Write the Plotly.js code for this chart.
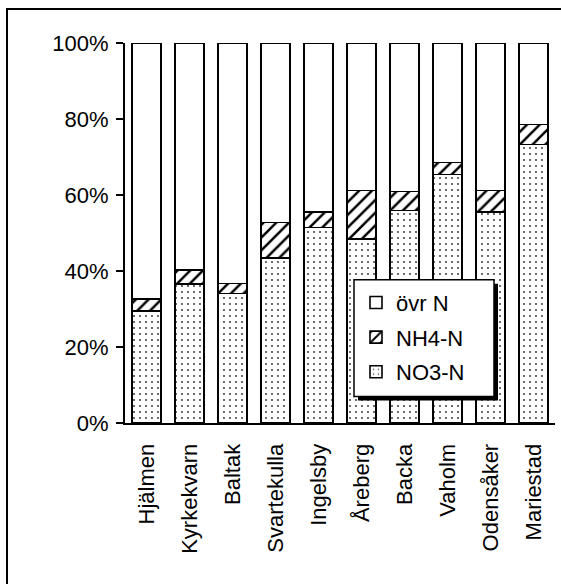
<!DOCTYPE html>
<html>
<head>
<meta charset="utf-8">
<script src="https://cdn.plot.ly/plotly-3.0.1.min.js"></script>
<style>
  html, body { margin: 0; padding: 0; background: #fff; }
  #chart { width: 561px; height: 584px; }
</style>
</head>
<body>
<div id="chart"></div>
<script>
// Share of nitrogen fractions per site (%)
const sites = ["Hjälmen", "Kyrkekvarn", "Baltak", "Svartekulla", "Ingelsby",
               "Åreberg", "Backa", "Vaholm", "Odensåker", "Mariestad"];
const no3N = [29.4, 36.6, 34.1, 43.5, 51.5, 48.5, 55.9, 65.4, 55.5, 73.3];
const nh4N = [3.3, 3.6, 2.6, 9.3, 4.0, 12.7, 5.0, 3.2, 5.7, 5.3];
const ovrN = [67.3, 59.8, 63.3, 47.2, 44.5, 38.8, 39.1, 31.4, 38.8, 21.4];
const yTicks = [0, 20, 40, 60, 80, 100];
const yTickText = ["0%", "20%", "40%", "60%", "80%", "100%"];

const FONT = "Liberation Sans, Arial, sans-serif";
const FS = 22;
const outline = { color: "#000", width: 1.6 };

const traces = [
  {
    type: "bar", name: "NO3-N", x: sites, y: no3N, legendgroup: "no3", legendrank: 3,
    marker: { color: "#fff", line: outline,
      pattern: { shape: ".", fgcolor: "#000", bgcolor: "#fff", size: 6, solidity: 0.07, fgopacity: 0.85 } }
  },
  {
    type: "bar", name: "NH4-N", x: sites, y: nh4N, legendgroup: "nh4", legendrank: 2,
    marker: { color: "#fff", line: outline,
      pattern: { shape: "/", fgcolor: "#000", bgcolor: "#fff", size: 9, solidity: 0.28 } }
  },
  {
    type: "bar", name: "övr N", x: sites, y: ovrN, legendgroup: "ovr", legendrank: 1,
    marker: { color: "#fff", line: outline }
  }
];

// plot area in pixels: x 125..555, y 43..423.5
const L = 125, R = 555, T = 43, B = 423.5;
const px = v => (v - L) / (R - L);
const py = v => (B - v) / (B - T);

const layout = {
  width: 561, height: 584,
  margin: { l: L, r: 561 - R, t: T, b: 584 - B },
  paper_bgcolor: "#fff", plot_bgcolor: "#fff",
  barmode: "stack", bargap: 0.32,
  font: { family: FONT, size: FS, color: "#000" },
  showlegend: true,
  legend: {
    x: px(356), y: py(282), xanchor: "left", yanchor: "top",
    bgcolor: "rgba(0,0,0,0)", borderwidth: 0,
    traceorder: "grouped", tracegroupgap: 3,
    font: { family: FONT, size: FS, color: "#000" }
  },
  xaxis: {
    type: "category", tickangle: -90, showline: true, linecolor: "#000", linewidth: 2,
    ticks: "", showgrid: false, zeroline: false, fixedrange: true,
    ticklabelstandoff: 10,
    tickfont: { family: FONT, size: FS, color: "#000" }
  },
  yaxis: {
    range: [0, 100], tickmode: "array", tickvals: yTicks, ticktext: yTickText,
    showline: true, linecolor: "#000", linewidth: 2,
    ticks: "outside", ticklen: 7, tickwidth: 2, tickcolor: "#000",
    ticklabelstandoff: 3,
    showgrid: false, zeroline: false, fixedrange: true,
    tickfont: { family: FONT, size: FS, color: "#000" }
  },
  shapes: [
    // outer frame
    { type: "rect", xref: "paper", yref: "paper", layer: "below",
      x0: px(7), x1: px(600), y0: py(640), y1: py(9),
      line: { color: "#000", width: 2 }, fillcolor: "rgba(0,0,0,0)" },
    // legend shadow and box
    { type: "rect", xref: "paper", yref: "paper", layer: "above",
      x0: px(358), x1: px(498), y0: py(401), y1: py(284),
      line: { width: 0 }, fillcolor: "#000" },
    { type: "rect", xref: "paper", yref: "paper", layer: "above",
      x0: px(354), x1: px(494), y0: py(397), y1: py(280),
      line: { color: "#000", width: 1.5 }, fillcolor: "#fff" }
  ]
};

Plotly.newPlot("chart", traces, layout, { staticPlot: true, displayModeBar: false });
</script>
</body>
</html>
